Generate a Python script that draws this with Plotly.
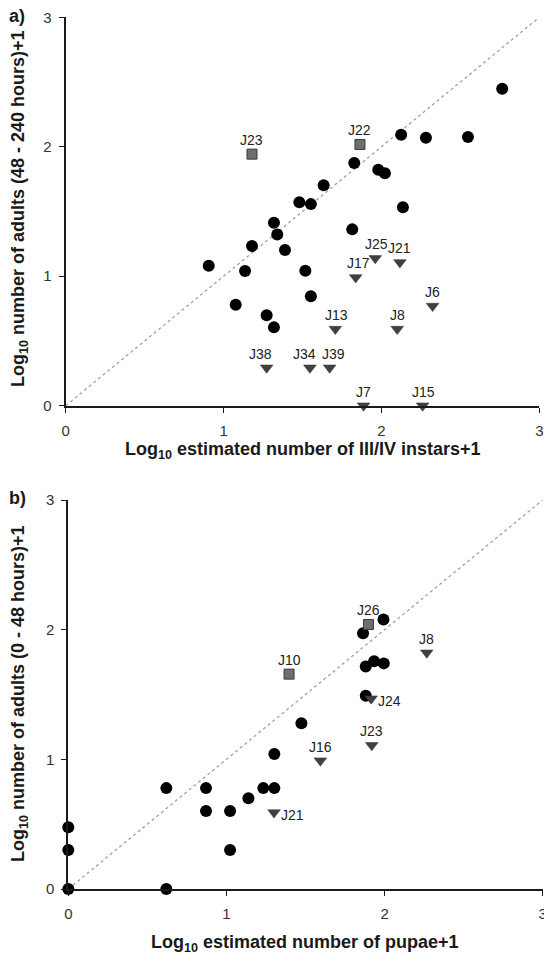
import plotly.graph_objects as go

# ---------------- Panel a data ----------------
a_circle_x = [0.906, 1.077, 1.136, 1.18, 1.273, 1.319, 1.319, 1.34, 1.389, 1.48, 1.553, 1.518,
              1.553, 1.634, 1.815, 1.828, 1.98, 2.022, 2.136, 2.125, 2.282, 2.548, 2.765]
a_circle_y = [1.081, 0.78, 1.040, 1.233, 0.698, 0.605, 1.413, 1.323, 1.202, 1.571, 1.557, 1.043,
              0.845, 1.702, 1.362, 1.874, 1.823, 1.795, 1.532, 2.093, 2.07, 2.075, 2.448]

a_square_labels = ["J23", "J22"]
a_square_x = [1.18, 1.864]
a_square_y = [1.943, 2.018]

a_tri_labels = ["J25", "J21", "J17", "J6", "J13", "J8", "J38", "J34", "J39", "J7", "J15"]
a_tri_x = [1.961, 2.117, 1.837, 2.324, 1.708, 2.10, 1.273, 1.547, 1.672, 1.887, 2.261]
a_tri_y = [1.138, 1.107, 0.991, 0.77, 0.592, 0.592, 0.293, 0.293, 0.293, 0.0, 0.0]

# ---------------- Panel b data ----------------
b_circle_x = [0, 0, 0, 0.62, 0.62, 0.871, 0.871, 1.023, 1.023, 1.139, 1.233, 1.303, 1.303,
              1.474, 1.881, 1.881, 1.934, 1.995, 1.864, 1.993]
b_circle_y = [0.477, 0.301, 0.0, 0.0, 0.778, 0.778, 0.602, 0.602, 0.301, 0.699, 0.778, 0.778,
              1.041, 1.279, 1.491, 1.716, 1.756, 1.74, 1.973, 2.079]

b_square_labels = ["J10", "J26"]
b_square_x = [1.396, 1.898]
b_square_y = [1.657, 2.04]

b_tri_labels = ["J8", "J24", "J23", "J16", "J21"]
b_tri_x = [2.267, 1.915, 1.919, 1.594, 1.301]
b_tri_y = [1.822, 1.468, 1.108, 0.99, 0.59]

tick_vals = [0, 1, 2, 3]
tick_text = ["0", "1", "2", "3"]

# label placement (pixel offsets relative to marker)
a_sq_off = {"J23": 0, "J22": 0}
a_tri_off = {"J25": 1, "J21": 0, "J17": 3, "J6": 0, "J13": 1, "J8": 0,
             "J38": -6, "J34": -5, "J39": 4, "J7": 0, "J15": 1}
b_right_labels = {"J24", "J21"}

FONT = "Liberation Sans, Arial, sans-serif"
CIRCLE = dict(symbol="circle", size=12, color="black")
SQUARE = dict(symbol="square", size=10, color="#6e6e6e", line=dict(color="#3a3a3a", width=1))
TRI = dict(symbol="triangle-down", size=11, color="#404040", line=dict(color="#303030", width=0.5))

fig = go.Figure()

def add_panel(xa, ya, cx, cy, sx, sy, tx, ty):
    fig.add_trace(go.Scatter(x=[0, 3], y=[0, 3], mode="lines",
                             line=dict(color="#a0a0a0", width=1.3, dash="dot"),
                             xaxis=xa, yaxis=ya, hoverinfo="skip"))
    fig.add_trace(go.Scatter(x=cx, y=cy, mode="markers", marker=CIRCLE,
                             xaxis=xa, yaxis=ya, cliponaxis=False))
    fig.add_trace(go.Scatter(x=sx, y=sy, mode="markers", marker=SQUARE,
                             xaxis=xa, yaxis=ya, cliponaxis=False))
    fig.add_trace(go.Scatter(x=tx, y=ty, mode="markers", marker=TRI,
                             xaxis=xa, yaxis=ya, cliponaxis=False))

add_panel("x", "y", a_circle_x, a_circle_y, a_square_x, a_square_y, a_tri_x, a_tri_y)
add_panel("x2", "y2", b_circle_x, b_circle_y, b_square_x, b_square_y, b_tri_x, b_tri_y)

annotations = []
LBL = dict(size=14, color="#222222", family=FONT)

def lbl_above(xref, yref, x, y, text, xs=0):
    annotations.append(dict(x=x, y=y, xref=xref, yref=yref, text=text, showarrow=False,
                            xanchor="center", yanchor="bottom", yshift=4, xshift=xs, font=LBL))

def lbl_right(xref, yref, x, y, text):
    annotations.append(dict(x=x, y=y, xref=xref, yref=yref, text=text, showarrow=False,
                            xanchor="left", yanchor="middle", xshift=5, yshift=-2, font=LBL))

for t, x, y in zip(a_square_labels, a_square_x, a_square_y):
    lbl_above("x", "y", x, y, t, a_sq_off[t])
for t, x, y in zip(a_tri_labels, a_tri_x, a_tri_y):
    lbl_above("x", "y", x, y, t, a_tri_off[t])
for t, x, y in zip(b_square_labels, b_square_x, b_square_y):
    lbl_above("x2", "y2", x, y, t)
for t, x, y in zip(b_tri_labels, b_tri_x, b_tri_y):
    if t in b_right_labels:
        lbl_right("x2", "y2", x, y, t)
    else:
        lbl_above("x2", "y2", x, y, t)

TITLE = dict(size=18, color="#1a1a1a", family=FONT)
annotations += [
    dict(text="<b>Log<sub>10</sub> estimated number of III/IV instars+1</b>", x=302.5 / 544,
         y=1 - 450 / 957, xref="paper", yref="paper", showarrow=False, font=TITLE,
         xanchor="center", yanchor="middle"),
    dict(text="<b>Log<sub>10</sub> number of adults (48 - 240 hours)+1</b>", x=19 / 544,
         y=1 - 209 / 957, xref="paper", yref="paper", showarrow=False, font=TITLE,
         textangle=-90, xanchor="center", yanchor="middle"),
    dict(text="<b>Log<sub>10</sub> estimated number of pupae+1</b>", x=305 / 544,
         y=1 - 943 / 957, xref="paper", yref="paper", showarrow=False, font=TITLE,
         xanchor="center", yanchor="middle"),
    dict(text="<b>Log<sub>10</sub> number of adults (0 - 48 hours)+1</b>", x=19 / 544,
         y=1 - 694 / 957, xref="paper", yref="paper", showarrow=False, font=TITLE,
         textangle=-90, xanchor="center", yanchor="middle"),
    dict(text="<b>a)</b>", x=17 / 544, y=1 - 16 / 957, xref="paper", yref="paper",
         showarrow=False, font=dict(size=18, color="#1a1a1a", family=FONT),
         xanchor="center", yanchor="middle"),
    dict(text="<b>b)</b>", x=17 / 544, y=1 - 498 / 957, xref="paper", yref="paper",
         showarrow=False, font=dict(size=18, color="#1a1a1a", family=FONT),
         xanchor="center", yanchor="middle"),
]

AX = dict(range=[0, 3], showgrid=False, zeroline=False, showline=True, linecolor="#1a1a1a",
          linewidth=2, ticks="outside", ticklen=5, tickwidth=1, tickcolor="#1a1a1a",
          tickvals=tick_vals, ticktext=tick_text, automargin=False,
          tickfont=dict(size=15, color="#333333", family=FONT))

fig.update_layout(
    width=544, height=957, margin=dict(l=0, r=0, t=0, b=0),
    paper_bgcolor="white", plot_bgcolor="white", showlegend=False,
    font=dict(family=FONT),
    xaxis=dict(AX, domain=[65.7 / 544, 539.3 / 544], anchor="y", ticklabelstandoff=5,
               ticklabeloverflow="allow"),
    yaxis=dict(AX, domain=[1 - 405.7 / 957, 1 - 17.3 / 957], anchor="x", ticklabelstandoff=4),
    xaxis2=dict(AX, domain=[68.3 / 544, 542.7 / 544], anchor="y2", ticklabelstandoff=5,
                ticklabeloverflow="allow"),
    yaxis2=dict(AX, domain=[1 - 889 / 957, 1 - 500 / 957], anchor="x2", ticklabelstandoff=4),
    annotations=annotations,
)

fig.write_html("out.html")
